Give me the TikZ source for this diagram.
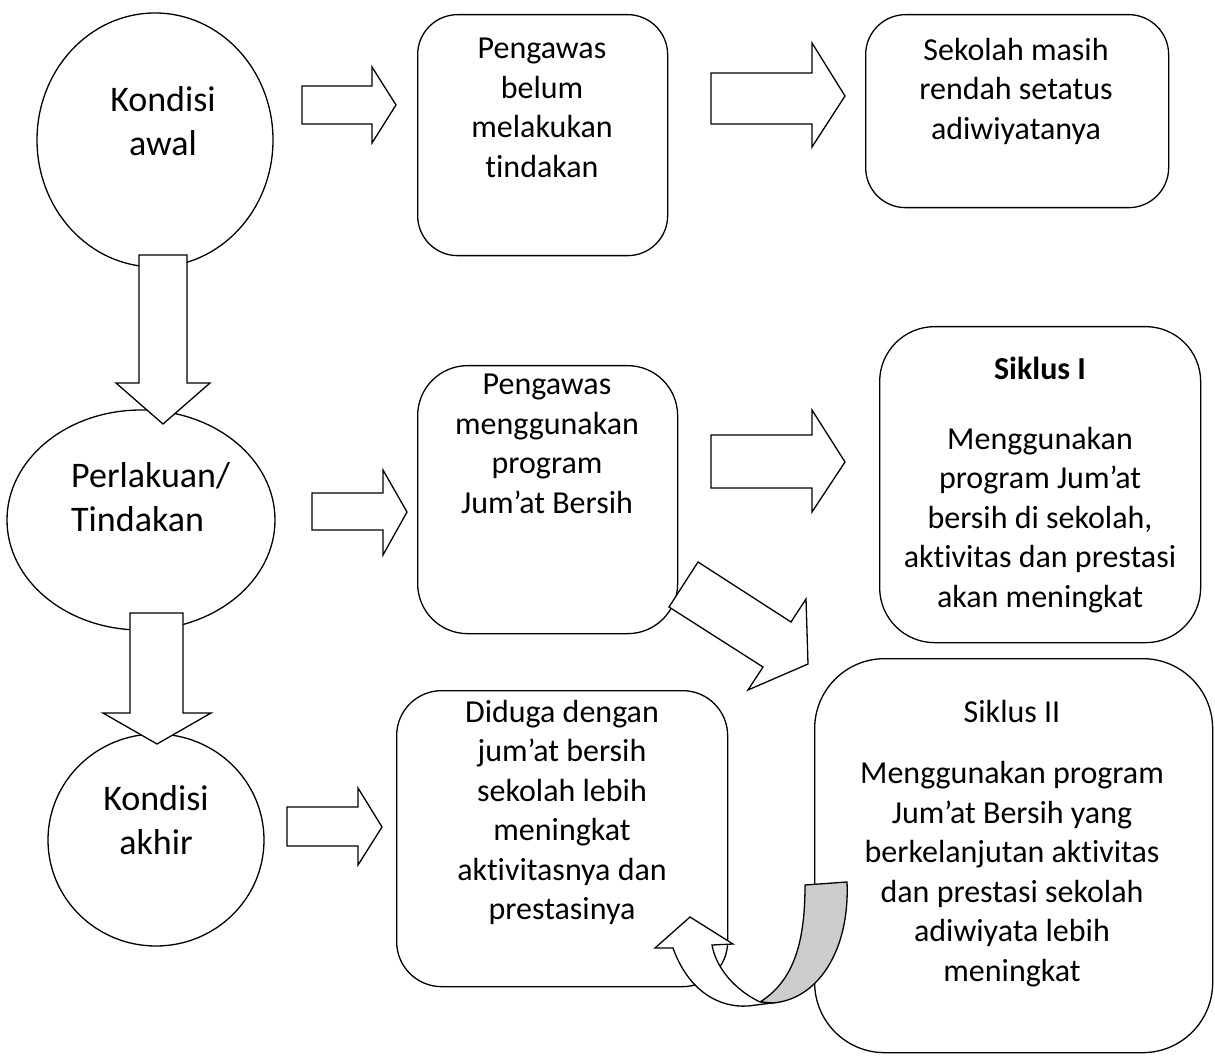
\documentclass[tikz,border=0pt]{standalone}
\usepackage{fontspec}
\setmainfont{Carlito}[Ligatures={NoCommon,NoRare}]
\usetikzlibrary{shapes.geometric}
\begin{document}
\begin{tikzpicture}[x=1pt,y=-1pt,
  shp/.style={draw,line width=1.3pt,fill=white,inner sep=0pt},
  ell/.style={shp,ellipse},
  box/.style={shp,rectangle,anchor=north west},
  blk/.style={draw,line width=1.3pt,fill=white,line join=miter},
  bigtxt/.style={font=\fontsize{36}{44}\selectfont,align=center,inner sep=0pt,anchor=north},
  txt/.style={font=\fontsize{32}{39.5}\selectfont,align=center,inner sep=0pt,anchor=north},
]
\useasboundingbox (0,0) rectangle (1215,1056);
% ellipses
\node[ell,minimum width=236pt,minimum height=254pt] (e1) at (155,140) {};
\node[ell,minimum width=268pt,minimum height=220pt] (e2) at (141,520) {};
\node[ell,minimum width=216pt,minimum height=212pt] (e3) at (156,840) {};
% boxes
\node[box,rounded corners=40pt,minimum width=250pt,minimum height=241pt] (b1) at (417,14) {};
\node[box,rounded corners=40pt,minimum width=303pt,minimum height=193pt] (b2) at (865,14) {};
\node[box,rounded corners=50pt,minimum width=260pt,minimum height=268pt] (b3) at (417,365) {};
\node[box,rounded corners=55pt,minimum width=321pt,minimum height=316pt] (b4) at (879,326) {};
\node[box,rounded corners=45pt,minimum width=331pt,minimum height=296pt] (b5) at (396,690) {};
\node[box,rounded corners=70pt,minimum width=398pt,minimum height=394pt] (b6) at (814,658) {};
% down arrows
\draw[blk] (139,255) -- (187,255) -- (187,383) -- (210,383) -- (163,424) -- (116,383) -- (139,383) -- cycle;
\draw[blk] (130,613) -- (183,613) -- (183,713) -- (211,713) -- (157,744) -- (103,713) -- (130,713) -- cycle;
% right arrows
\draw[blk] (302,86) -- (372,86) -- (372,67) -- (396,105) -- (372,143) -- (372,124) -- (302,124) -- cycle;
\draw[blk] (711,73) -- (812,73) -- (812,43) -- (845,96) -- (812,147) -- (812,124) -- (711,124) -- cycle;
\draw[blk] (312,493) -- (383,493) -- (383,470) -- (407,512) -- (383,555) -- (383,530) -- (312,530) -- cycle;
\draw[blk] (711,435) -- (812,435) -- (812,410) -- (845,462) -- (812,512) -- (812,488) -- (711,488) -- cycle;
\draw[blk] (287,807) -- (358,807) -- (358,788) -- (382,827) -- (358,865) -- (358,846) -- (287,846) -- cycle;
% diagonal arrow
\draw[blk] (698,562) -- (791,622) -- (806,599) -- (808,664) -- (748,690) -- (763,667) -- (669,607) -- cycle;
% curved arrow
\draw[line width=1.3pt,fill=black!20,line join=round]
  (805,885) -- (847,882) .. controls (850,950) and (818,1000) .. (772,1003)
  -- (760,1002) .. controls (795,980) and (805,940) .. (805,885) -- cycle;
\draw[line width=1.3pt,fill=white,line join=miter]
  (760,1002) .. controls (735,990) and (716,968) .. (712,945)
  -- (733,944) -- (690,917) -- (655,948) -- (673,948)
  .. controls (688,990) and (718,1008) .. (748,1006) -- (772,1003) -- cycle;
% texts
\node[bigtxt] (t1) at (163,86) {Kondisi\\awal};
\node[bigtxt,align=left,anchor=north west] (t2) at (71,462) {Perlakuan/\\Tindakan};
\node[bigtxt] (t3) at (156,785) {Kondisi\\akhir};
\node[txt] (t4) at (542,38) {Pengawas\\belum\\melakukan\\tindakan};
\node[txt] (t5) at (1016,38) {Sekolah masih\\rendah setatus\\adiwiyatanya};
\node[txt] (t6) at (547,374) {Pengawas\\menggunakan\\program\\Jum’at Bersih};
\node[txt] (t7) at (1040,357) {\textbf{Siklus I}\\[30pt]Menggunakan\\program Jum’at\\bersih di sekolah,\\aktivitas dan prestasi\\akan meningkat};
\node[txt] (t8) at (562,700) {Diduga dengan\\jum’at bersih\\sekolah lebih\\meningkat\\aktivitasnya dan\\prestasinya};
\node[txt] (t9) at (1012,700) {Siklus II\\[22pt]Menggunakan program\\Jum’at Bersih yang\\berkelanjutan aktivitas\\dan prestasi sekolah\\adiwiyata lebih\\meningkat};
\end{tikzpicture}
\end{document}
